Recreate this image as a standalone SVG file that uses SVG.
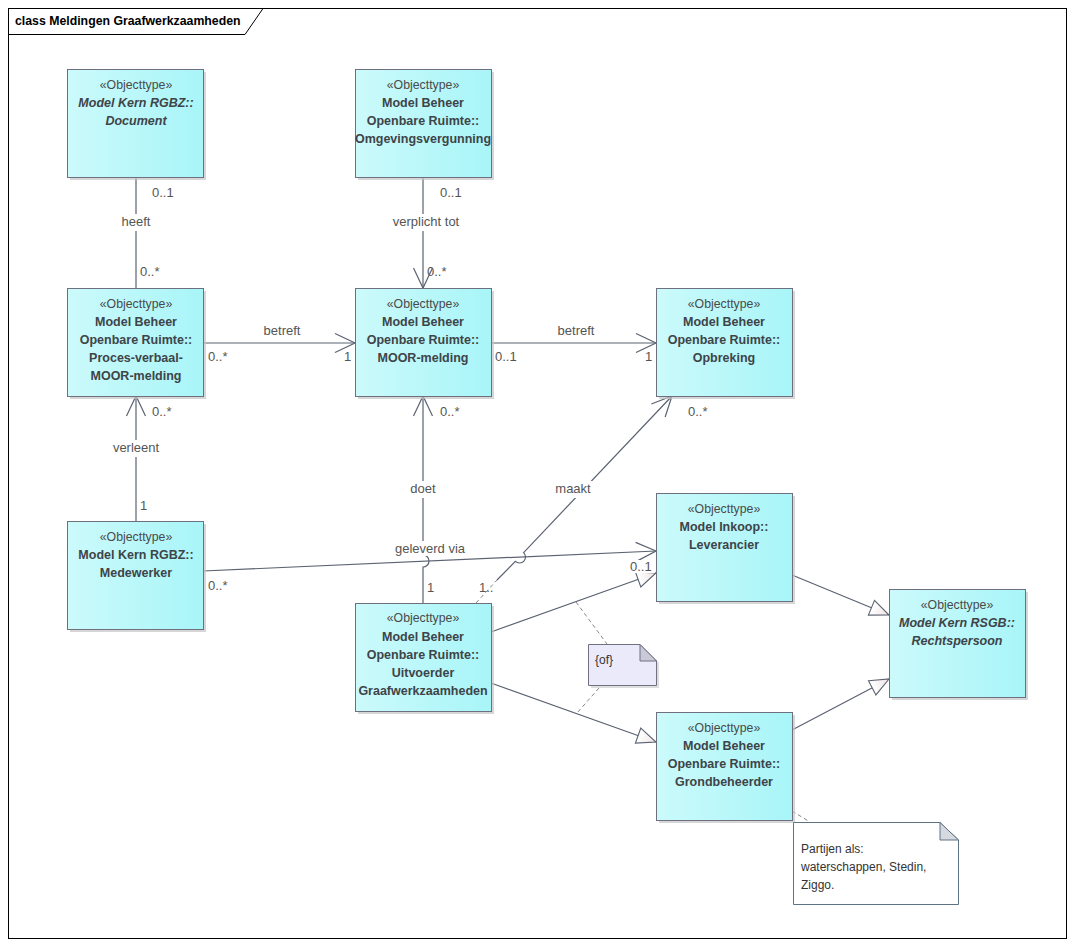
<svg xmlns="http://www.w3.org/2000/svg" width="1074" height="947" viewBox="0 0 1074 947">
<defs>
<linearGradient id="cyan" x1="0" y1="0" x2="1" y2="0">
<stop offset="0" stop-color="#CCFAFB"/>
<stop offset="1" stop-color="#A8F5F8"/>
</linearGradient>
<linearGradient id="tri" x1="0" y1="0" x2="1" y2="0">
<stop offset="0" stop-color="#FFFFFF"/>
<stop offset="1" stop-color="#EFE4E4"/>
</linearGradient>
<marker id="open" markerUnits="userSpaceOnUse" markerWidth="24" markerHeight="22" viewBox="0 0 24 22" refX="21" refY="11" orient="auto">
<path d="M1,1.5 L21,11 L1,20.5" fill="none" stroke="#5B6270" stroke-width="1.2"/>
</marker>
<marker id="gen" markerUnits="userSpaceOnUse" markerWidth="22" markerHeight="20" viewBox="0 0 22 20" refX="20" refY="10" orient="auto">
<path d="M1,2 L20,10 L1,18 Z" fill="url(#tri)" stroke="#5B6270" stroke-width="1.1"/>
</marker>
</defs>
<style>
.frame{fill:#FFFFFF;stroke:#000000;stroke-width:1}
.shadow{fill:#C4C4C4;opacity:0.7}
.box{fill:url(#cyan);stroke:#6E7080;stroke-width:1}
.st{font-family:"Liberation Sans",Arial,sans-serif;font-size:12.3px;fill:#4A4A4A;text-anchor:middle}
.nm{font-family:"Liberation Sans",Arial,sans-serif;font-size:12.5px;font-weight:bold;fill:#3E4448;text-anchor:middle}
.it{font-style:italic}
.ln{fill:none;stroke:#5B6270;stroke-width:1.2}
.dash{fill:none;stroke:#888888;stroke-width:1;stroke-dasharray:4 3}
.lbl{font-family:"Liberation Sans",Arial,sans-serif;font-size:13px;fill:#555555}
.mid{text-anchor:middle}
.bg{fill:#FFFFFF}
.note{fill:#EAEAFA;stroke:#707080;stroke-width:1}
.note2{fill:#FFFFFF;stroke:#5E7282;stroke-width:1}
.fold{fill:#C9C9D9;stroke:#707080;stroke-width:1}
.fold2{fill:#D6D9E0;stroke:#5E7282;stroke-width:1}
.nt{font-family:"Liberation Sans",Arial,sans-serif;font-size:12px;fill:#333333}
</style>

<g id="frame">
<rect class="frame" x="8.5" y="8.5" width="1058" height="930"/>
<path d="M8.5,34.5 H245 L263,8.5" fill="none" stroke="#000000" stroke-width="1"/>
<text x="15" y="25" font-family="'Liberation Sans',Arial,sans-serif" font-size="12.3" font-weight="bold" fill="#000000">class Meldingen Graafwerkzaamheden</text>
</g>

<g id="connectors">
<!-- heeft -->
<path class="ln" d="M136,177 V288"/>
<rect class="bg" x="116" y="214" width="40" height="17"/>
<text class="lbl mid" x="136" y="226">heeft</text>
<text class="lbl" x="152" y="197">0..1</text>
<text class="lbl" x="140" y="276">0..*</text>

<!-- verplicht tot -->
<path class="ln" d="M423,177 V288" marker-end="url(#open)"/>
<rect class="bg" x="388" y="214" width="76" height="17"/>
<text class="lbl mid" x="426" y="226">verplicht tot</text>
<text class="lbl" x="440" y="197">0..1</text>
<text class="lbl" x="427" y="276">0..*</text>

<!-- betreft 1 -->
<path class="ln" d="M203,343 H355" marker-end="url(#open)"/>
<text class="lbl mid" x="282" y="335">betreft</text>
<text class="lbl" x="208" y="361">0..*</text>
<text class="lbl" x="344" y="361">1</text>

<!-- betreft 2 -->
<path class="ln" d="M491,343 H656" marker-end="url(#open)"/>
<text class="lbl mid" x="576" y="335">betreft</text>
<text class="lbl" x="495" y="361">0..1</text>
<text class="lbl" x="645" y="361">1</text>

<!-- verleent -->
<path class="ln" d="M136,521 V396" marker-end="url(#open)"/>
<rect class="bg" x="110" y="440" width="52" height="17"/>
<text class="lbl mid" x="136" y="452">verleent</text>
<text class="lbl" x="152" y="416">0..*</text>
<text class="lbl" x="140" y="510">1</text>

<!-- doet -->
<path class="ln" d="M423,603 V567 A6,6 0 0 0 423,555 V396" marker-end="url(#open)"/>
<rect class="bg" x="406" y="481" width="34" height="17"/>
<text class="lbl mid" x="423" y="493">doet</text>
<text class="lbl" x="440" y="416">0..*</text>
<text class="lbl" x="427" y="592">1</text>

<!-- maakt -->
<path class="dash" d="M476,603 L497,580" stroke="#5B6270"/>
<path class="ln" d="M497,580 L515.4,561.4 A6,6 0 0 0 523.6,552.6 L672,396" marker-end="url(#open)"/>
<rect class="bg" x="552" y="481" width="42" height="17"/>
<text class="lbl mid" x="573" y="493">maakt</text>
<text class="lbl" x="479" y="592">1..</text>
<text class="lbl" x="688" y="416">0..*</text>

<!-- geleverd via -->
<path class="ln" d="M203,571 L656,551" marker-end="url(#open)"/>
<rect class="bg" x="393" y="541" width="74" height="15"/>
<text class="lbl mid" x="430" y="553">geleverd via</text>
<text class="lbl" x="208" y="590">0..*</text>

<!-- generalizations -->
<path class="ln" d="M491,632 L656,573" marker-end="url(#gen)"/>
<path class="ln" d="M491,683 L656,742" marker-end="url(#gen)"/>
<path class="ln" d="M792,575 L889,615" marker-end="url(#gen)"/>
<path class="ln" d="M792,730 L889,679" marker-end="url(#gen)"/>
<rect class="bg" x="628" y="560" width="27" height="13"/>
<text class="lbl" x="630" y="571">0..1</text>

<!-- note links -->
<path class="dash" d="M576,602 L607,644"/>
<path class="dash" d="M599,688 L577,713"/>
<path class="dash" d="M792,811 L810,822"/>
</g>

<g id="document">
<rect class="shadow" x="70" y="72" width="136" height="108"/>
<rect class="box" x="67.5" y="69.5" width="136" height="108"/>
<text class="st" x="136" y="89">«Objecttype»</text>
<text class="nm it" x="136" y="107">Model Kern RGBZ::</text>
<text class="nm it" x="136" y="125">Document</text>
</g>

<g id="omgevingsvergunning">
<rect class="shadow" x="358" y="72" width="136" height="108"/>
<rect class="box" x="355.5" y="69.5" width="136" height="108"/>
<text class="st" x="423" y="89">«Objecttype»</text>
<text class="nm" x="423" y="107">Model Beheer</text>
<text class="nm" x="423" y="125">Openbare Ruimte::</text>
<text class="nm" x="423" y="143">Omgevingsvergunning</text>
</g>

<g id="procesverbaal">
<rect class="shadow" x="70" y="291" width="136" height="108"/>
<rect class="box" x="67.5" y="288.5" width="136" height="108"/>
<text class="st" x="136" y="308">«Objecttype»</text>
<text class="nm" x="136" y="326">Model Beheer</text>
<text class="nm" x="136" y="344">Openbare Ruimte::</text>
<text class="nm" x="136" y="362">Proces-verbaal-</text>
<text class="nm" x="136" y="380">MOOR-melding</text>
</g>

<g id="moormelding">
<rect class="shadow" x="358" y="291" width="136" height="108"/>
<rect class="box" x="355.5" y="288.5" width="136" height="108"/>
<text class="st" x="423" y="308">«Objecttype»</text>
<text class="nm" x="423" y="326">Model Beheer</text>
<text class="nm" x="423" y="344">Openbare Ruimte::</text>
<text class="nm" x="423" y="362">MOOR-melding</text>
</g>

<g id="opbreking">
<rect class="shadow" x="659" y="291" width="136" height="108"/>
<rect class="box" x="656.5" y="288.5" width="136" height="108"/>
<text class="st" x="724" y="308">«Objecttype»</text>
<text class="nm" x="724" y="326">Model Beheer</text>
<text class="nm" x="724" y="344">Openbare Ruimte::</text>
<text class="nm" x="724" y="362">Opbreking</text>
</g>

<g id="leverancier">
<rect class="shadow" x="659" y="496" width="136" height="108"/>
<rect class="box" x="656.5" y="493.5" width="136" height="108"/>
<text class="st" x="724" y="513">«Objecttype»</text>
<text class="nm" x="724" y="531">Model Inkoop::</text>
<text class="nm" x="724" y="549">Leverancier</text>
</g>

<g id="medewerker">
<rect class="shadow" x="70" y="524" width="136" height="108"/>
<rect class="box" x="67.5" y="521.5" width="136" height="108"/>
<text class="st" x="136" y="541">«Objecttype»</text>
<text class="nm" x="136" y="559">Model Kern RGBZ::</text>
<text class="nm" x="136" y="577">Medewerker</text>
</g>

<g id="uitvoerder">
<rect class="shadow" x="358" y="606" width="136" height="108"/>
<rect class="box" x="355.5" y="603.5" width="136" height="108"/>
<text class="st" x="423" y="622">«Objecttype»</text>
<text class="nm" x="423" y="641">Model Beheer</text>
<text class="nm" x="423" y="659">Openbare Ruimte::</text>
<text class="nm" x="423" y="677">Uitvoerder</text>
<text class="nm" x="423" y="695">Graafwerkzaamheden</text>
</g>

<g id="rechtspersoon">
<rect class="shadow" x="892" y="592" width="136" height="108"/>
<rect class="box" x="889.5" y="589.5" width="136" height="108"/>
<text class="st" x="957" y="609">«Objecttype»</text>
<text class="nm it" x="957" y="627">Model Kern RSGB::</text>
<text class="nm it" x="957" y="645">Rechtspersoon</text>
</g>

<g id="grondbeheerder">
<rect class="shadow" x="659" y="715" width="136" height="108"/>
<rect class="box" x="656.5" y="712.5" width="136" height="108"/>
<text class="st" x="724" y="732">«Objecttype»</text>
<text class="nm" x="724" y="750">Model Beheer</text>
<text class="nm" x="724" y="768">Openbare Ruimte::</text>
<text class="nm" x="724" y="786">Grondbeheerder</text>
</g>

<g id="note-of">
<path d="M591,647 H643 L659,663 V688 H591 Z" fill="#C8C8C8" opacity="0.6"/>
<path class="note" d="M588.5,644.5 H640 L656.5,661 V685.5 H588.5 Z"/>
<path class="fold" d="M640,644.5 V661 H656.5 Z"/>
<text class="nt" x="595" y="664">{of}</text>
</g>

<g id="note-partijen">
<path class="note2" d="M793.5,822.5 H940 L958.5,840 V904.5 H793.5 Z"/>
<path class="fold2" d="M940,822.5 V840 H958.5 Z"/>
<text class="nt" x="801" y="853">Partijen als:</text>
<text class="nt" x="801" y="871">waterschappen, Stedin,</text>
<text class="nt" x="801" y="889">Ziggo.</text>
</g>
</svg>
